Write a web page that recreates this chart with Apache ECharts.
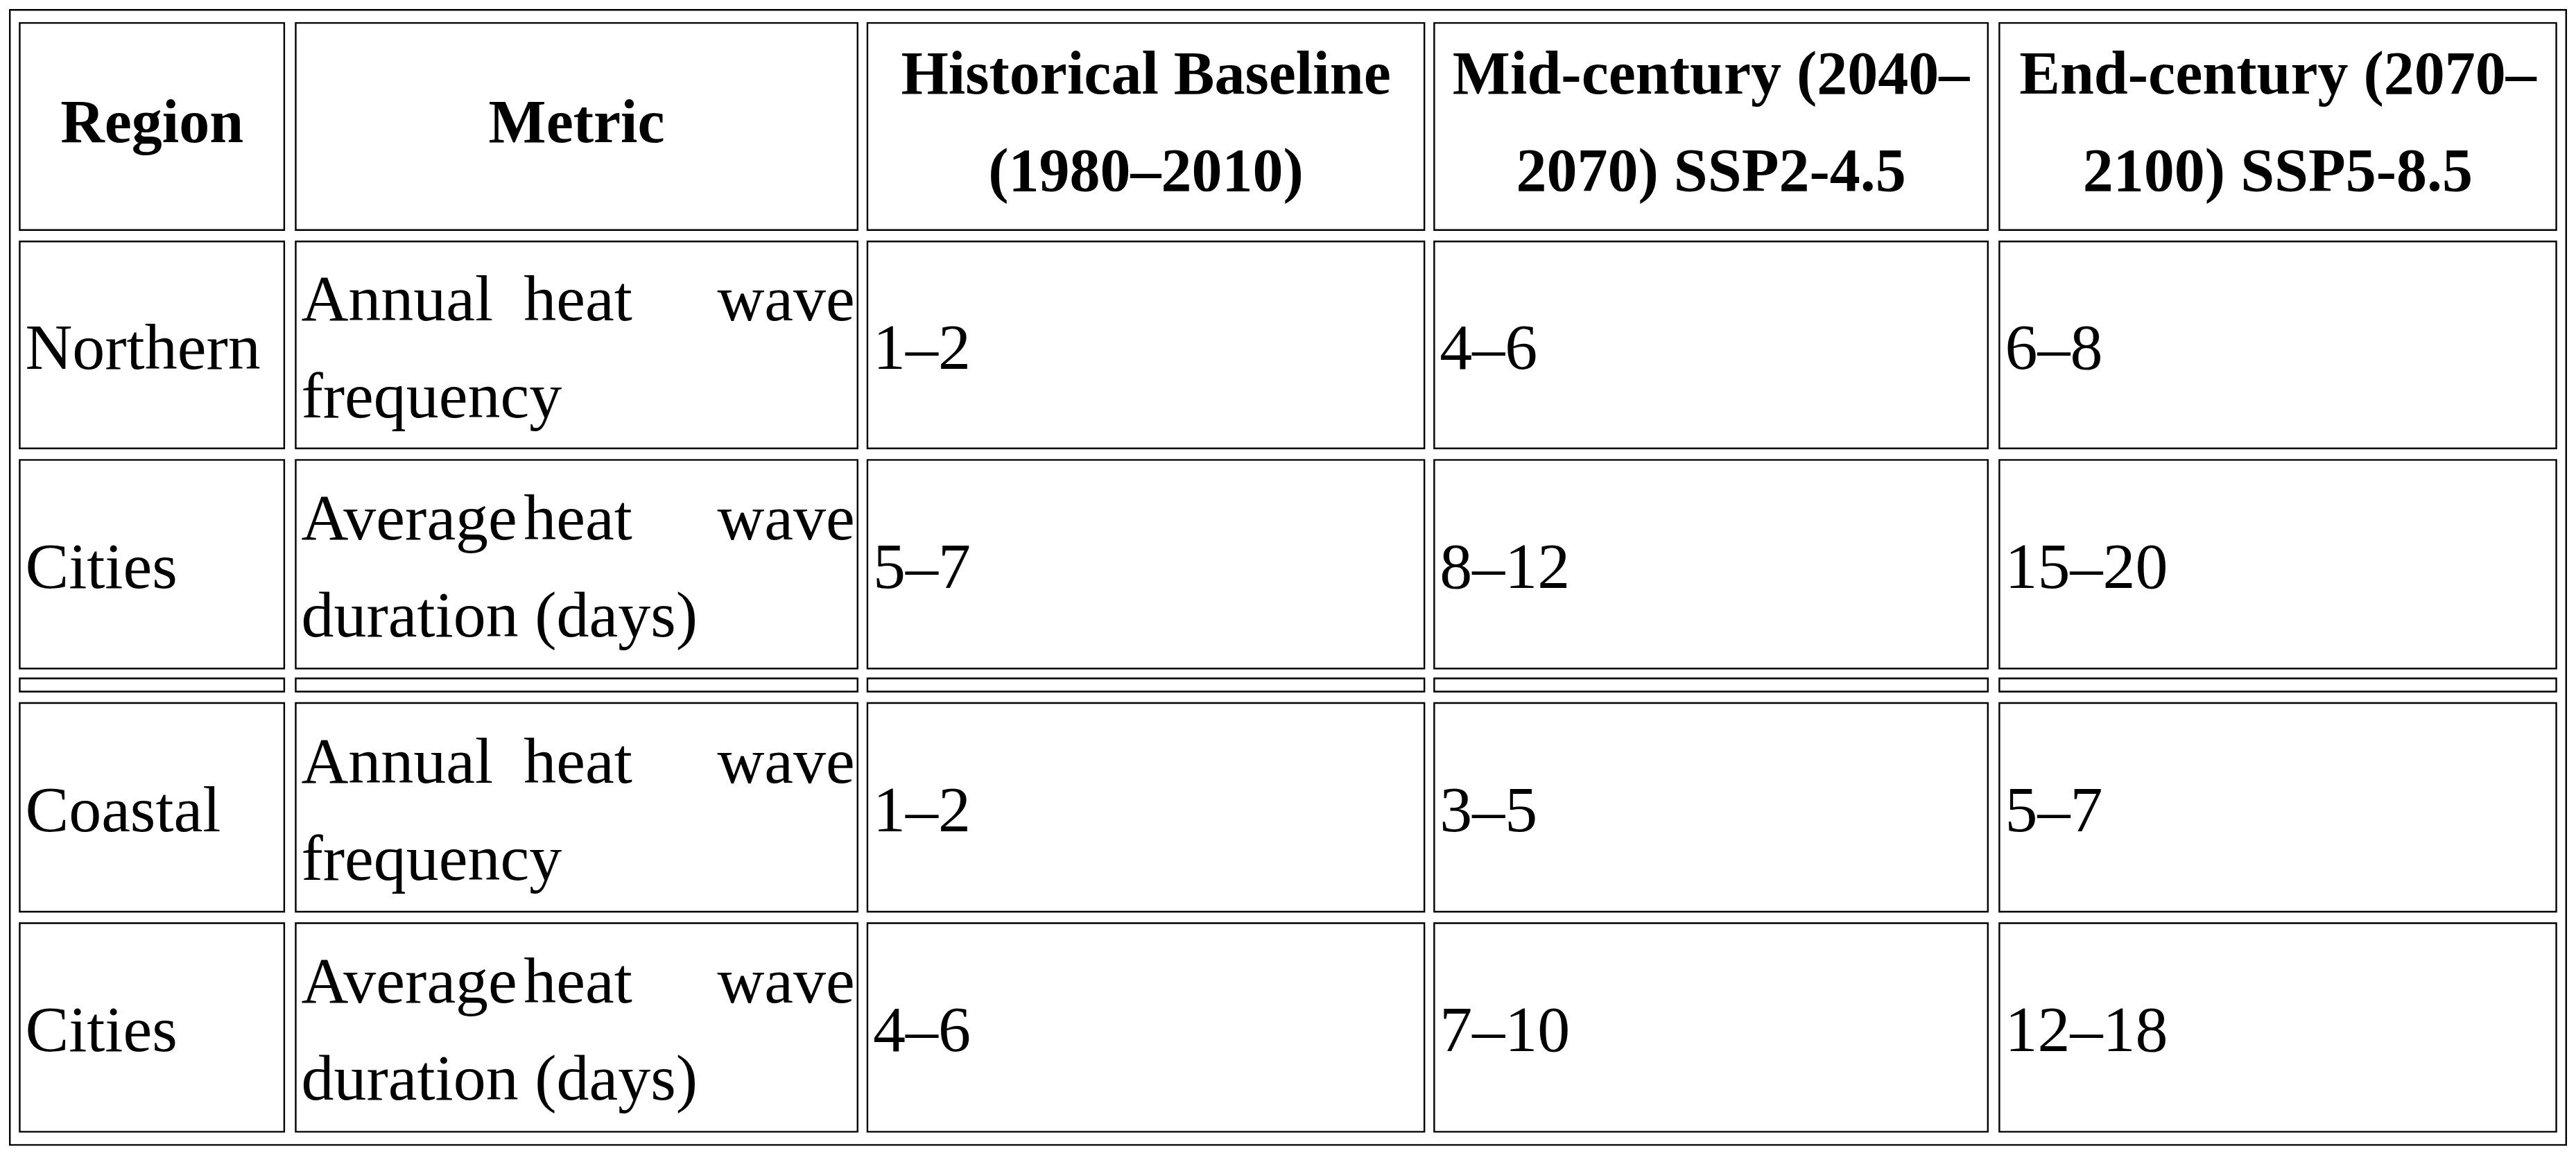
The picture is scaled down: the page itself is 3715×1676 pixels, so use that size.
<!DOCTYPE html>
<html><head><meta charset="utf-8">
<script src="https://cdn.jsdelivr.net/npm/echarts@6/dist/echarts.min.js"></script>
<style>html,body{margin:0;padding:0;background:#fff}#c{width:3715px;height:1676px}</style>
</head><body><div id="c"></div>
<script>
// ---- table data ----
const headers = [['Region'], ['Metric'], ['Historical Baseline', '(1980–2010)'], ['Mid-century (2040–', '2070) SSP2-4.5'], ['End-century (2070–', '2100) SSP5-8.5']];
const regions = ['Northern', 'Cities', 'Coastal', 'Cities'];
const metrics = [['Annual heat wave', 'frequency'], ['Average heat wave', 'duration (days)'], ['Annual heat wave', 'frequency'], ['Average heat wave', 'duration (days)']];
const historical = ['1–2', '5–7', '1–2', '4–6'];
const midCentury = ['4–6', '8–12', '3–5', '7–10'];
const endCentury = ['6–8', '15–20', '5–7', '12–18'];

// ---- layout (px in the 3715x1676 page) ----
const S = 3715 / 1568;
const colX = [[12,173],[180,522],[528,867],[873,1210],[1217,1556]].map(c=>c.map(v=>v*S));
const headerY = [14,140].map(v=>v*S);
const rowY = [[147,273],[280,407],[428,555],[562,689]].map(r=>r.map(v=>v*S));
const spacerY = [413,421].map(v=>v*S);
const FONT = 'Liberation Serif';
const FS = 94, HFS = 88, LH = 59*S, PAD = 8;
const LW = 2.4;

const els = [];
els.push({type:'rect', shape:{x:6*S, y:6*S, width:1556*S, height:691*S}, style:{fill:'none', stroke:'#000', lineWidth:LW}});

function cell(x0,x1,y0,y1){
  els.push({type:'rect', shape:{x:x0, y:y0, width:x1-x0, height:y1-y0}, style:{fill:'#fff', stroke:'#000', lineWidth:LW}});
}
function txt(t,x,y,align,bold){
  els.push({type:'text', x:x, y:y, style:{text:t, font:(bold?'bold '+HFS:FS)+'px "'+FONT+'"', fill:'#000', align:align, verticalAlign:'middle'}});
}
function justified(t,x0,x1,y){
  const words = t.split(' ');
  const n = words.length;
  if (n === 1){ txt(t,x0,y,'left'); return; }
  txt(words[0], x0, y, 'left');
  txt(words[n-1], x1, y, 'right');
  for (let i=1;i<n-1;i++) txt(words[i], x0+(x1-x0)*i/(n-1), y, 'center');
}

// header
headers.forEach((h,j)=>{
  const [x0,x1] = colX[j];
  cell(x0,x1,headerY[0],headerY[1]);
  const cy = (headerY[0]+headerY[1])/2;
  h.forEach((line,k)=> txt(line,(x0+x1)/2, cy + (k-(h.length-1)/2)*LH, 'center', true));
});
// spacer row
colX.forEach(([x0,x1])=> cell(x0,x1,spacerY[0],spacerY[1]));
// body
regions.forEach((r,i)=>{
  const [y0,y1] = rowY[i];
  const cy = (y0+y1)/2 + 4*S;
  colX.forEach(([x0,x1])=> cell(x0,x1,y0,y1));
  txt(r, colX[0][0]+PAD, cy, 'left');
  justified(metrics[i][0], colX[1][0]+PAD, colX[1][1]-4, cy-LH/2);
  txt(metrics[i][1], colX[1][0]+PAD, cy+LH/2, 'left');
  txt(historical[i], colX[2][0]+PAD, cy, 'left');
  txt(midCentury[i], colX[3][0]+PAD, cy, 'left');
  txt(endCentury[i], colX[4][0]+PAD, cy, 'left');
});

const chart = echarts.init(document.getElementById('c'));
chart.setOption({backgroundColor:'#fff', animation:false, graphic:{elements:els}});
</script></body></html>
